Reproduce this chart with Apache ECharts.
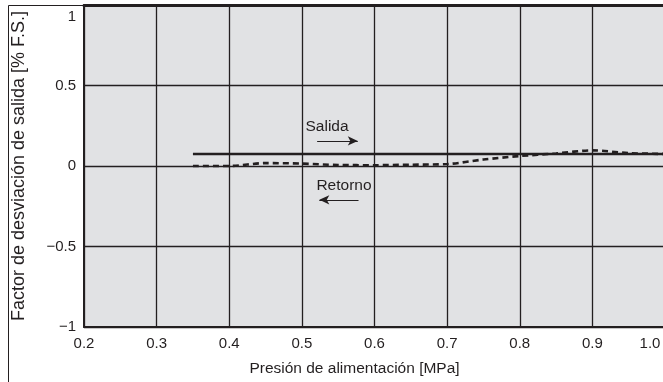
<!DOCTYPE html>
<html><head><meta charset="utf-8">
<script src="https://cdn.jsdelivr.net/npm/echarts@6/dist/echarts.min.js"></script>
<style>html,body{margin:0;padding:0;background:#fff}#c{width:663px;height:382px}</style>
</head><body><div id="c"></div>
<script>
var xTicks = [0.2, 0.3, 0.4, 0.5, 0.6, 0.7, 0.8, 0.9, 1.0];
var yTicks = [-1, -0.5, 0, 0.5, 1];
var salidaX = [0.35, 1.0];
var salidaY = [0.075, 0.075];
var retornoX = [0.35, 0.4, 0.45, 0.5, 0.55, 0.6, 0.65, 0.7, 0.75, 0.8, 0.85, 0.9, 0.95, 1.0];
var retornoY = [0.0, 0.0, 0.018, 0.015, 0.006, 0.005, 0.008, 0.012, 0.04, 0.062, 0.078, 0.097, 0.08, 0.075];
var labelSalida = 'Salida';
var labelRetorno = 'Retorno';
var arrowSalida = [[0.521, 0.156], [0.577, 0.156]];
var arrowRetorno = [[0.578, -0.21], [0.524, -0.21]];
var textSalida = [0.505, 0.245];
var textRetorno = [0.52, -0.12];

var FONT = '"Liberation Sans", Arial, Helvetica, sans-serif';
var INK = '#231f20';
function pairs(xs, ys) { return xs.map(function (x, i) { return [x, ys[i]]; }); }

var chart = echarts.init(document.getElementById('c'), null, { renderer: 'canvas' });
chart.setOption({
  animation: false,
  backgroundColor: '#ffffff',
  graphic: [{
    type: 'rect', z: -10, silent: true,
    shape: { x: 8.5, y: 5.5, width: 700, height: 420 },
    style: { fill: '#ffffff', stroke: INK, lineWidth: 1 }
  }],
  grid: {
    left: 84, top: 5, width: 581, height: 322,
    outerBoundsMode: 'none', containLabel: false,
    show: true, backgroundColor: '#e1e2e4', borderWidth: 0, z: 0
  },
  xAxis: [{
    type: 'value', min: 0.2, max: 1.0, interval: 0.1,
    name: 'Presión de alimentación [MPa]', nameLocation: 'middle', nameGap: 34,
    nameTextStyle: { fontFamily: FONT, fontSize: 15.5, color: INK, padding: [0, 40, 0, 0] },
    axisLine: { show: true, onZero: false, lineStyle: { color: INK, width: 2 } },
    axisTick: { show: false },
    axisLabel: { fontFamily: FONT, fontSize: 15, color: INK, margin: 9,
      formatter: function (v) {
        var s = v.toFixed(1);
        return v > 0.95 ? '{last|' + s + '}' : s;
      },
      rich: { last: { fontFamily: FONT, fontSize: 15, color: INK, padding: [0, 30, 0, 0] } } },
    splitLine: { show: true, lineStyle: { color: INK, width: 1.3 } }
  }, {
    type: 'value', position: 'top', min: 0.2, max: 1.0, interval: 0.1,
    axisLine: { show: true, onZero: false, lineStyle: { color: INK, width: 3 } },
    axisTick: { show: false }, axisLabel: { show: false }, splitLine: { show: false }
  }],
  yAxis: {
    type: 'value', min: -1, max: 1, interval: 0.5,
    name: 'Factor de desviación de salida [% F.S.]', nameLocation: 'middle', nameGap: 56,
    nameTextStyle: { fontFamily: FONT, fontSize: 18, color: INK },
    axisLine: { show: true, onZero: false, lineStyle: { color: INK, width: 2 } },
    axisTick: { show: false },
    axisLabel: { fontFamily: FONT, fontSize: 15, color: INK, margin: 8,
      formatter: function (v) {
        var s = String(v).replace('-', '\u2212');
        return v === 1 ? '{top|' + s + '}' : s;
      },
      rich: { top: { fontFamily: FONT, fontSize: 15, color: INK, padding: [24, 0, 0, 0] } } },
    splitLine: { show: true, lineStyle: { color: INK, width: 1.3 } }
  },
  series: [{
    name: labelSalida, type: 'line', data: pairs(salidaX, salidaY),
    showSymbol: false, z: 5,
    lineStyle: { color: INK, width: 2.6 },
    markLine: {
      silent: true, symbol: ['none', 'arrow'], symbolSize: [7, 10],
      lineStyle: { color: INK, width: 1, type: 'solid' }, label: { show: false },
      data: [[{ coord: arrowSalida[0] }, { coord: arrowSalida[1] }],
             [{ coord: arrowRetorno[0] }, { coord: arrowRetorno[1] }]]
    },
    markPoint: {
      silent: true, symbol: 'circle', symbolSize: 0,
      label: { show: true, position: 'right', distance: 0, fontFamily: FONT, fontSize: 15.5, color: INK,
        formatter: function (p) { return p.name; } },
      data: [{ name: labelSalida, coord: textSalida }, { name: labelRetorno, coord: textRetorno }]
    }
  }, {
    name: labelRetorno, type: 'line', data: pairs(retornoX, retornoY),
    showSymbol: false, smooth: 0.3, z: 6,
    lineStyle: { color: INK, width: 2.6, type: [6, 4] }
  }]
});
</script></body></html>
